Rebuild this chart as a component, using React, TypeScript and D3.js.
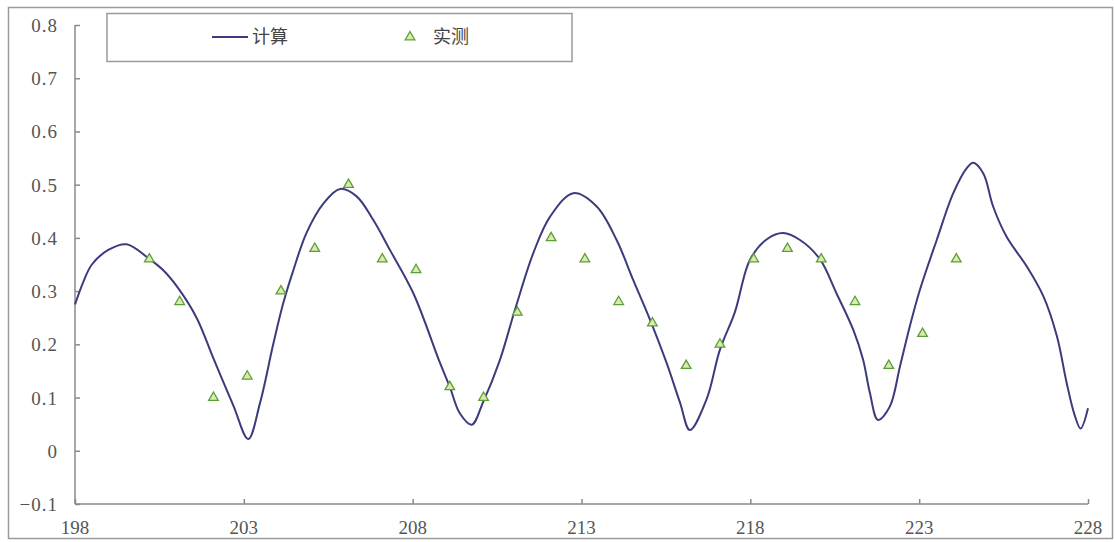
import React, { useEffect, useRef } from "react";
import * as d3 from "d3";

const calcX = [198.0, 198.25, 198.5, 199.0, 199.53, 200.17, 200.6, 201.05, 201.6, 202.09, 202.69, 203.13, 203.48, 203.87, 204.17, 204.47, 204.86, 205.36, 205.85, 206.34, 206.83, 207.33, 208.02, 208.81, 209.1, 209.4, 209.75, 210.09, 210.58, 211.03, 211.57, 212.07, 212.76, 213.45, 214.04, 214.53, 215.03, 215.52, 215.92, 216.21, 216.7, 217.1, 217.54, 217.99, 218.5, 218.97, 219.47, 220.06, 220.55, 221.05, 221.34, 221.54, 221.78, 222.13, 222.43, 222.72, 223.02, 223.52, 224.01, 224.41, 224.6, 224.9, 225.19, 225.59, 226.19, 226.68, 227.08, 227.37, 227.6, 227.78, 228.0];
const calcY = [0.275, 0.318, 0.35, 0.378, 0.388, 0.362, 0.34, 0.306, 0.25, 0.175, 0.085, 0.022, 0.09, 0.2, 0.278, 0.34, 0.41, 0.465, 0.492, 0.478, 0.434, 0.377, 0.296, 0.165, 0.12, 0.07, 0.049, 0.092, 0.17, 0.265, 0.371, 0.44, 0.484, 0.459, 0.396, 0.321, 0.246, 0.165, 0.09, 0.039, 0.096, 0.19, 0.26, 0.359, 0.398, 0.409, 0.396, 0.36, 0.296, 0.227, 0.171, 0.109, 0.058, 0.083, 0.158, 0.233, 0.302, 0.396, 0.484, 0.531, 0.541, 0.521, 0.459, 0.402, 0.346, 0.29, 0.215, 0.127, 0.068, 0.042, 0.08];

const measX = [200.2, 201.1, 202.1, 203.1, 204.1, 205.1, 206.1, 207.1, 208.1, 209.1, 210.1, 211.1, 212.1, 213.1, 214.1, 215.1, 216.1, 217.1, 218.1, 219.1, 220.1, 221.1, 222.1, 223.1, 224.1];
const measY = [0.36, 0.28, 0.10, 0.14, 0.30, 0.38, 0.50, 0.36, 0.34, 0.12, 0.10, 0.26, 0.40, 0.36, 0.28, 0.24, 0.16, 0.20, 0.36, 0.38, 0.36, 0.28, 0.16, 0.22, 0.36];

const xTicks = [198, 203, 208, 213, 218, 223, 228];
const yTicks = [-0.1, 0, 0.1, 0.2, 0.3, 0.4, 0.5, 0.6, 0.7, 0.8];
const legendLabels = ["计算", "实测"];

export default function App() {
  const ref = useRef<SVGSVGElement>(null);
  useEffect(() => {
    const svg = d3.select(ref.current);
    svg.selectAll("*").remove();
    const W = 1115, H = 542;
    const x = d3.scaleLinear().domain([198, 228]).range([75, 1088]);
    const y = d3.scaleLinear().domain([-0.1, 0.8]).range([504, 25]);
    const axisColor = "#8a8a8a";
    const font = "'Liberation Serif', 'DejaVu Serif', serif";

    svg.append("rect").attr("width", W).attr("height", H).attr("fill", "#fff");
    svg.append("rect").attr("x", 8.5).attr("y", 7.5).attr("width", 1104).attr("height", 531)
      .attr("fill", "none").attr("stroke", "#9a9a9a").attr("stroke-width", 1.5);

    // axes
    const gY = svg.append("g").attr("transform", `translate(${x(198)},0)`);
    gY.call(d3.axisRight(y).tickValues(yTicks).tickSize(5).tickFormat(() => ""));
    gY.selectAll("path,line").attr("stroke", axisColor).attr("stroke-width", 1.5);
    gY.select(".domain").attr("d", `M0,${y(0.8)}V${y(-0.1)}`);
    const gX = svg.append("g").attr("transform", `translate(0,${y(-0.1)})`);
    gX.call(d3.axisTop(x).tickValues(xTicks).tickSize(5).tickFormat(() => ""));
    gX.selectAll("path,line").attr("stroke", axisColor).attr("stroke-width", 1.5);
    gX.select(".domain").attr("d", `M${x(198)},0H${x(228)}`);

    svg.append("g").selectAll("text").data(yTicks).join("text")
      .attr("x", 58).attr("y", (d) => y(d) + 7)
      .attr("text-anchor", "end").attr("font-family", font).attr("font-size", 19)
      .attr("fill", "#555").attr("letter-spacing", 1)
      .text((d) => (d === 0 ? "0" : d3.format(".1f")(d)));

    svg.append("g").selectAll("text").data(xTicks).join("text")
      .attr("x", (d) => x(d)).attr("y", 534)
      .attr("text-anchor", "middle").attr("font-family", font).attr("font-size", 19)
      .attr("fill", "#555")
      .text((d) => String(d));

    // line
    const pts = calcX.map((v, i) => [v, calcY[i]] as [number, number]);
    const line = d3.line<[number, number]>().x((d) => x(d[0])).y((d) => y(d[1])).curve(d3.curveCatmullRom.alpha(0.5));
    svg.append("path").attr("d", line(pts)).attr("fill", "none").attr("stroke", "#3b3b7e").attr("stroke-width", 2);

    // markers
    const tri = d3.symbol().type(d3.symbolTriangle).size(40);
    svg.append("g").selectAll("path").data(measX.map((v, i) => [v, measY[i]])).join("path")
      .attr("d", tri()).attr("transform", (d) => `translate(${x(d[0])},${y(d[1])})`)
      .attr("fill", "#d8ecb0").attr("stroke", "#5e9e36").attr("stroke-width", 1.3);

    // legend
    const lg = svg.append("g");
    lg.append("rect").attr("x", 107).attr("y", 13.5).attr("width", 465).attr("height", 48)
      .attr("fill", "#fff").attr("stroke", "#9a9a9a").attr("stroke-width", 1.5);
    lg.append("line").attr("x1", 212).attr("x2", 248).attr("y1", 37).attr("y2", 37)
      .attr("stroke", "#3b3b7e").attr("stroke-width", 2);
    lg.append("text").attr("x", 252).attr("y", 43).attr("font-family", "'Noto Sans CJK SC', sans-serif")
      .attr("font-size", 18).attr("fill", "#444").text(legendLabels[0]);
    lg.append("path").attr("d", tri()).attr("transform", "translate(410,37)")
      .attr("fill", "#d8ecb0").attr("stroke", "#5e9e36").attr("stroke-width", 1.3);
    lg.append("text").attr("x", 433).attr("y", 43).attr("font-family", "'Noto Sans CJK SC', sans-serif")
      .attr("font-size", 18).attr("fill", "#444").text(legendLabels[1]);
  }, []);
  return (
    <svg ref={ref} width={1115} height={542} style={{ position: "absolute", left: 0, top: 0, display: "block" }} />
  );
}
